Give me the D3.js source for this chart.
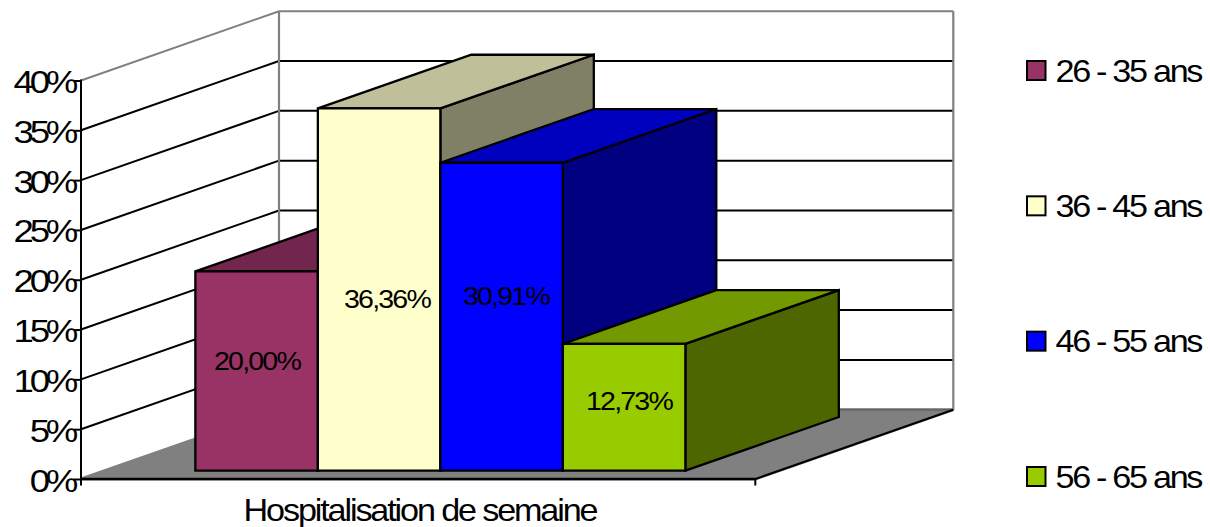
<!DOCTYPE html>
<html><head><meta charset="utf-8">
<script src="https://cdn.jsdelivr.net/npm/d3@7"></script>
<style>html,body{margin:0;background:#fff}svg{display:block}text{font-family:"Liberation Sans",Arial,sans-serif;fill:#000}</style>
</head><body><svg id="c" width="1210" height="527"></svg>
<script>
const seriesNames = ["26 - 35 ans","36 - 45 ans","46 - 55 ans","56 - 65 ans"];
const seriesValues = [20.00,36.36,30.91,12.73];
const valueLabels = ["20,00%","36,36%","30,91%","12,73%"];
const frontColors = ["#993366","#FFFFCC","#0000FF","#99CC00"];
const topColors = ["#73264D","#BFBF99","#0000BF","#739900"];
const sideColors = ["#4D1A33","#808066","#000080","#4D6600"];
const yTicks = [0,5,10,15,20,25,30,35,40];
const categoryLabel = "Hospitalisation de semaine";

const svg = d3.select("#c");
const y = d3.scaleLinear().domain([0,40]).range([479,80.5]);
const xFront = d3.scaleLinear().domain([0,1]).range([81,755.3]);
const depthX = d3.scaleLinear().domain([0,1]).range([0,198]);
const depthY = d3.scaleLinear().domain([0,1]).range([0,-69.3]);
const band = d3.scaleBand().domain(seriesNames).range([171.6,661.6]);
const d0 = 0.12, d1 = 0.895;
const pt = (x,v,d)=>[x+depthX(d), y(v)+depthY(d)];
const poly = (pts,fill,stroke,sw)=>svg.append("path").attr("d",d3.line()(pts)+"Z").attr("fill",fill).attr("stroke",stroke||"none").attr("stroke-width",sw||0).attr("stroke-linejoin","miter");
const line = (a,b,stroke,sw)=>svg.append("line").attr("x1",a[0]).attr("y1",a[1]).attr("x2",b[0]).attr("y2",b[1]).attr("stroke",stroke).attr("stroke-width",sw);
const X0=xFront(0), X1=xFront(1);
const wide = (sel,x,yy,sx,ls)=>sel.attr("x",0).attr("y",0).attr("dy",null).attr("transform",`translate(${x},${yy}) scale(${sx},1)`).attr("letter-spacing",ls);

// floor
poly([pt(X0,0,0),pt(X1,0,0),pt(X1,0,1),pt(X0,0,1)],"#808080","#808080",3);
// gridlines
yTicks.slice(1,-1).forEach(v=>{
  line(pt(X0,v,0),pt(X0,v,1),"#000",2);
  line(pt(X0,v,1),pt(X1,v,1),"#000",2);
});
// walls
const grey="#808080";
line(pt(X0,40,0),pt(X0,40,1),grey,2);
line(pt(X0,40,1),pt(X1,40,1),grey,2);
line(pt(X0,0,1),pt(X0,40,1),grey,2.2);
line(pt(X1,0,1),pt(X1,40,1),grey,2.2);
line(pt(X0,0,1),pt(X1,0,1),"#666",2);
line(pt(X1,0,0),pt(X1,0,1),"#000",2);

// bars
seriesNames.forEach((s,i)=>{
  const a=band(s), b=a+band.bandwidth(), v=seriesValues[i];
  poly([pt(b,0,d0),pt(b,0,d1),pt(b,v,d1),pt(b,v,d0)],sideColors[i],"#000",2.3);
  poly([pt(a,v,d0),pt(b,v,d0),pt(b,v,d1),pt(a,v,d1)],topColors[i],"#000",2.3);
  poly([pt(a,0,d0),pt(b,0,d0),pt(b,v,d0),pt(a,v,d0)],frontColors[i],"#000",2.3);
});
const labelCx = [257,387,506,629];
const labelDy = [-1.5,18,-12.2,2.5];
seriesNames.forEach((s,i)=>{
  const t=svg.append("text").attr("text-anchor","middle").attr("font-size",25.5).text(valueLabels[i]);
  wide(t,labelCx[i],(y(0)+depthY(d0)+y(seriesValues[i])+depthY(d0))/2+labelDy[i],1.12,-1.6);
});

// axes
const yAxis = d3.axisLeft(y).tickValues(yTicks).tickSize(7).tickPadding(0).tickFormat(d=>d+"%");
const gy = svg.append("g").attr("transform",`translate(${X0},0)`).call(yAxis);
gy.selectAll("line,path").attr("stroke","#000").attr("stroke-width",2);
gy.select("path").attr("d",`M0,${y(40)-1}V485.5`);
gy.selectAll("text").attr("font-size",31).attr("font-family",null).attr("text-anchor","end")
  .each(function(){ wide(d3.select(this),-7,12,1.18,-3.6); });
line([X0,479],[X1,479],"#000",2.4);
line([X1,479],[X1,485.5],"#000",2);
const tt=svg.append("text").attr("text-anchor","middle").attr("font-size",30.5).text(categoryLabel);
wide(tt,420,520.5,1.12,-1.9);

// legend
const ly = d3.scalePoint().domain(seriesNames).range([71,477]);
seriesNames.forEach((s,i)=>{
  svg.append("rect").attr("x",1027).attr("y",ly(s)-10).attr("width",18.5).attr("height",19).attr("fill",frontColors[i]).attr("stroke","#000").attr("stroke-width",2);
  const t=svg.append("text").attr("font-size",30.5).text(s);
  wide(t,1055.5,ly(s)+10.5,1.12,-2.05);
});
</script></body></html>
